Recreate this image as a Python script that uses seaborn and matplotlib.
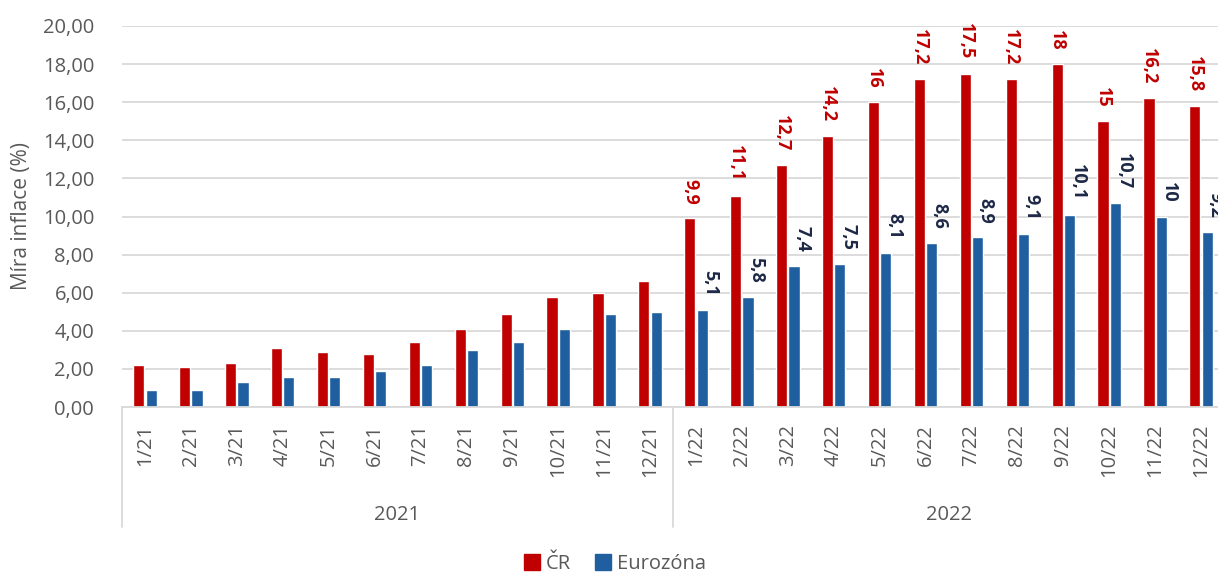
import numpy as np
import pandas as pd
import matplotlib
matplotlib.use("Agg")
import matplotlib.pyplot as plt
import matplotlib.transforms as mtransforms
from matplotlib.patches import Patch
import seaborn as sns

# Data
months = ["1/21", "2/21", "3/21", "4/21", "5/21", "6/21", "7/21", "8/21", "9/21", "10/21", "11/21", "12/21",
          "1/22", "2/22", "3/22", "4/22", "5/22", "6/22", "7/22", "8/22", "9/22", "10/22", "11/22", "12/22"]
years = ["2021", "2022"]
cr = [2.2, 2.1, 2.3, 3.1, 2.9, 2.8, 3.4, 4.1, 4.9, 5.8, 6.0, 6.6,
      9.9, 11.1, 12.7, 14.2, 16.0, 17.2, 17.5, 17.2, 18.0, 15.0, 16.2, 15.8]
ez = [0.9, 0.9, 1.3, 1.6, 1.6, 1.9, 2.2, 3.0, 3.4, 4.1, 4.9, 5.0,
      5.1, 5.8, 7.4, 7.5, 8.1, 8.6, 8.9, 9.1, 10.1, 10.7, 10.0, 9.2]
series = ["ČR", "Eurozóna"]

RED = "#C00000"
BLUE = "#1F5FA0"
NAVY = "#1C2845"
GREY = "#595959"
GRID = "#D9D9D9"

df = pd.DataFrame({
    "mesic": months * 2,
    "hodnota": cr + ez,
    "rada": [series[0]] * len(months) + [series[1]] * len(months),
})

sns.set_style("white")
plt.rcParams["font.family"] = ["Open Sans", "DejaVu Sans"]

fig = plt.figure(figsize=(12.18, 5.73), dpi=100)
ax = fig.add_axes([122 / 1218, 166 / 573, 1102 / 1218, 381 / 573])

sns.barplot(data=df, x="mesic", y="hodnota", hue="rada", palette=[RED, BLUE],
            width=0.54, gap=0.1, ax=ax, legend=False, saturation=1)

ax.set_ylim(0, 20)
ax.set_xlim(-0.5, len(months) - 0.5)
ax.set_yticks(np.arange(0, 21, 2))
ax.set_yticklabels([f"{v:.2f}".replace(".", ",") for v in np.arange(0, 21, 2)],
                   fontsize=14.5, color=GREY)
ax.yaxis.grid(True, color=GRID, linewidth=1.3)
ax.set_axisbelow(True)
ax.tick_params(axis="y", length=0, pad=20)
ax.tick_params(axis="x", length=0, pad=12)
ax.set_xticks(range(len(months)))
ax.set_xticklabels(months, rotation=90, fontsize=14.5, color=GREY, va="top")
ax.set_xlabel("")
ax.set_ylabel("Míra inflace (%)", fontsize=15, color=GREY, labelpad=8)
for s in ["top", "right", "left"]:
    ax.spines[s].set_visible(False)
ax.spines["bottom"].set_color(GRID)
ax.spines["bottom"].set_linewidth(1.3)

# data labels for 2022
n21 = 12
for i, (c, e) in enumerate(zip(cr, ez)):
    if i < n21:
        continue
    ax.annotate(f"{c:g}".replace(".", ","), (i - 0.13, c), xytext=(0, 10),
                textcoords="offset points", rotation=270, ha="center", va="bottom",
                fontsize=13, fontweight="bold", color=RED)
    ax.annotate(f"{e:g}".replace(".", ","), (i + 0.13, e), xytext=(6, 10),
                textcoords="offset points", rotation=270, ha="center", va="bottom",
                fontsize=13, fontweight="bold", color=NAVY)

# two-level category axis
trans = mtransforms.blended_transform_factory(ax.transData, ax.transAxes)
depth = -(527 - 407) / 381
for xs in [-0.5, 11.5, 23.5]:
    ax.plot([xs, xs], [0, depth], transform=trans, color=GRID, lw=1.3, clip_on=False)
for k, y in enumerate(years):
    ax.text(5.5 + 12 * k, -(515 - 407) / 381, y, transform=trans, ha="center", va="center",
            fontsize=14.5, color=GREY)

handles = [Patch(color=RED, label=series[0]), Patch(color=BLUE, label=series[1])]
fig.legend(handles=handles, loc="center", bbox_to_anchor=(615 / 1218, 1 - 564 / 573), ncol=2,
           frameon=False, fontsize=14.5, handlelength=0.8, handleheight=0.8,
           handletextpad=0.3, columnspacing=1.2, labelcolor=GREY)

fig.savefig("out.png", dpi=100)
